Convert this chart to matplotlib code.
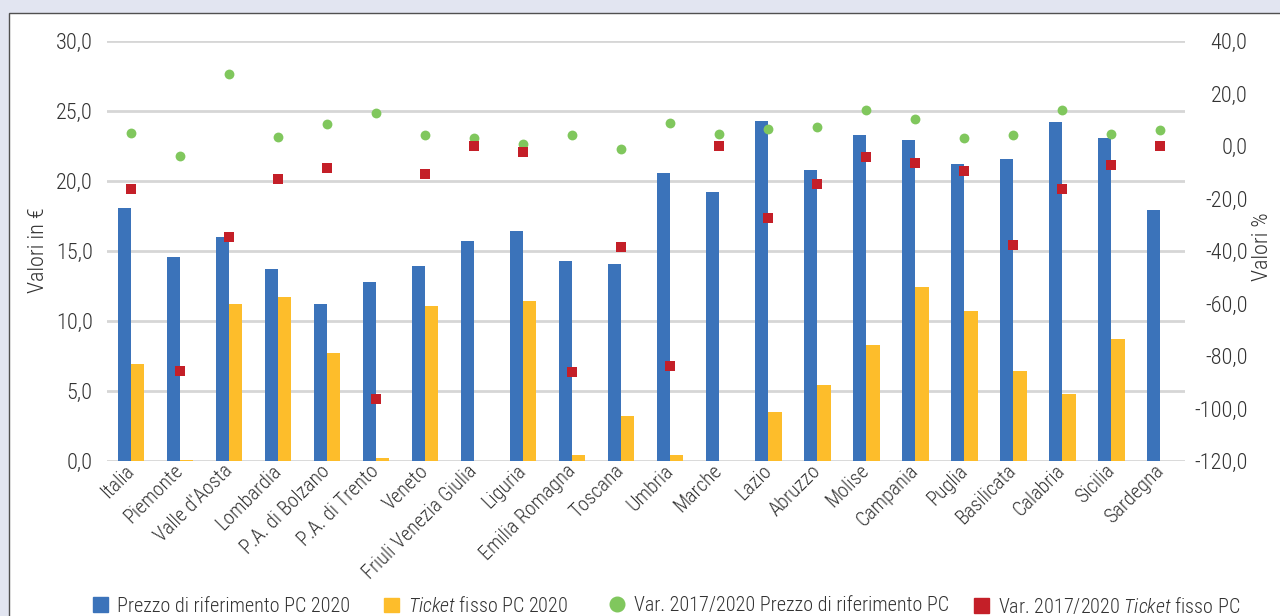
import matplotlib
matplotlib.use("Agg")
import matplotlib.pyplot as plt
import matplotlib.patches as mpatches
from matplotlib.lines import Line2D
from matplotlib import font_manager
import numpy as np

regions = ["Italia", "Piemonte", "Valle d'Aosta", "Lombardia", "P.A. di Bolzano",
           "P.A. di Trento", "Veneto", "Friuli Venezia Giulia", "Liguria",
           "Emilia Romagna", "Toscana", "Umbria", "Marche", "Lazio", "Abruzzo",
           "Molise", "Campania", "Puglia", "Basilicata", "Calabria", "Sicilia",
           "Sardegna"]

prezzo_2020 = [18.1, 14.6, 16.0, 13.7, 11.2, 12.8, 13.9, 15.7, 16.4, 14.3, 14.1,
               20.6, 19.2, 24.3, 20.8, 23.3, 22.9, 21.2, 21.6, 24.2, 23.1, 17.9]
ticket_2020 = [6.9, 0.1, 11.2, 11.7, 7.7, 0.2, 11.1, 0.0, 11.4, 0.4, 3.2,
               0.4, 0.0, 3.5, 5.4, 8.3, 12.4, 10.7, 6.4, 4.8, 8.7, 0.0]
var_prezzo = [4.8, -3.7, 27.6, 3.6, 8.4, 12.6, 4.2, 3.0, 0.6, 4.2, -1.1,
              8.9, 4.7, 6.6, 7.1, 13.7, 10.2, 3.0, 4.2, 13.7, 4.7, 6.0]
var_ticket = [-16.3, -85.7, -34.8, -12.7, -8.5, -96.5, -10.8, 0.0, -2.4, -86.2, -38.4,
              -83.8, 0.0, -27.5, -14.4, -4.2, -6.6, -9.6, -37.7, -16.3, -7.2, 0.0]

left_ticks = [0, 5, 10, 15, 20, 25, 30]
right_ticks = [-120, -100, -80, -60, -40, -20, 0, 20, 40]

# ---- choose a narrow font if one is installed
names = {f.name for f in font_manager.fontManager.ttflist}
cond = {(f.name) for f in font_manager.fontManager.ttflist
        if str(f.stretch) in ("condensed", "semi-condensed", "extra-condensed") or
        (isinstance(f.stretch, int) and f.stretch < 500)}
FAM, STRETCH, SCALE = "Liberation Sans", "normal", 0.85
for cand in ["Liberation Sans Narrow", "Roboto Condensed", "Open Sans Condensed",
             "Noto Sans Condensed", "DejaVu Sans Condensed"]:
    if cand in names:
        FAM, STRETCH, SCALE = cand, "normal", 1.0
        break
else:
    for cand in ["Roboto", "DejaVu Sans", "Noto Sans", "Open Sans"]:
        if cand in cond:
            FAM, STRETCH, SCALE = cand, "condensed", 1.0
            break

plt.rcParams['font.family'] = [FAM, 'DejaVu Sans']
plt.rcParams['font.stretch'] = STRETCH
plt.rcParams['font.weight'] = 'light'
plt.rcParams['mathtext.fontset'] = 'custom'
plt.rcParams['mathtext.rm'] = FAM + ':light'
plt.rcParams['mathtext.it'] = FAM + ':italic:light'

FS_TICK = 16 * SCALE
FS_TXT = 14.5 * SCALE

BLUE = "#3b73ba"
YELLOW = "#fdbd2b"
GREEN = "#80c75d"
RED = "#c41f28"
TXT = "#333333"

W, H = 1280, 616
fig = plt.figure(figsize=(W / 100, H / 100), dpi=100)
fig.patch.set_facecolor("#e2e5f1")

panel = mpatches.Rectangle((8.5 / W, -0.05), 1.2, 1 - 12.5 / H + 0.05,
                           transform=fig.transFigure, facecolor="white",
                           edgecolor="#505050", linewidth=1.0, zorder=-5)
fig.patches.append(panel)

ax = fig.add_axes([106.5 / W, 1 - 461 / H, (1185 - 106.5) / W, (461 - 41) / H])
ax.set_facecolor("none")
ax2 = ax.twinx()
ax2.set_facecolor("none")

x = np.arange(len(regions))
bw = 0.27
ax.bar(x - bw / 2, prezzo_2020, width=bw, color=BLUE, zorder=3)
ax.bar(x + bw / 2, ticket_2020, width=bw, color=YELLOW, zorder=3)

ax2.scatter(x, var_prezzo, s=50, marker="o", color=GREEN, zorder=4, linewidths=0)
ax2.scatter(x, var_ticket, s=46, marker="s", color=RED, zorder=4, linewidths=0)

ax.set_xlim(-0.5, len(regions) - 0.5)
ax.set_ylim(0, 30)
ax2.set_ylim(-120, 40)
ax.set_yticks(left_ticks)
ax.set_yticklabels([f"{v:.1f}".replace(".", ",") for v in left_ticks])
ax2.set_yticks(right_ticks)
ax2.set_yticklabels([f"{v:.1f}".replace(".", ",") for v in right_ticks])

ax.yaxis.grid(True, color="#d6d6d6", linewidth=2.0, zorder=0)
ax.set_axisbelow(True)
for a in (ax, ax2):
    for s in a.spines.values():
        s.set_visible(False)
    a.tick_params(length=0, colors=TXT, labelsize=FS_TICK)

ax.tick_params(axis="y", pad=10)
ax2.tick_params(axis="y", pad=45)
for lab in ax2.get_yticklabels():
    lab.set_horizontalalignment("right")

ax.set_xticks(x)
ax.set_xticklabels(regions, rotation=45, ha="right", va="center",
                   rotation_mode="anchor", fontsize=FS_TXT, color=TXT)
ax.tick_params(axis="x", pad=5)

fig.text(39 / W, 1 - 250 / H, "Valori in €", rotation=90, ha="center", va="center",
         fontsize=FS_TICK, color=TXT)
fig.text(1263 / W, 1 - 247 / H, "Valori %", rotation=90, ha="center", va="center",
         fontsize=FS_TICK, color=TXT)

entries = [
    (93, mpatches.Patch(color=BLUE), "Prezzo di riferimento PC 2020"),
    (384, mpatches.Patch(color=YELLOW), r"$\mathit{Ticket}$ fisso PC 2020"),
    (610, Line2D([], [], marker="o", color=GREEN, linestyle="none", markersize=10.5),
     "Var. 2017/2020 Prezzo di riferimento PC"),
    (974, mpatches.Patch(color=RED), r"Var. 2017/2020 $\mathit{Ticket}$ fisso PC"),
]
for xpos, h, lab in entries:
    fig.legend([h], [lab], loc="center left", bbox_to_anchor=(xpos / W, 1 - 606 / H),
               frameon=False, fontsize=FS_TXT, handlelength=0.72, handleheight=0.72,
               handletextpad=0.45, borderpad=0, borderaxespad=0, labelcolor=TXT)

fig.savefig("out.png", dpi=100, facecolor=fig.get_facecolor())
